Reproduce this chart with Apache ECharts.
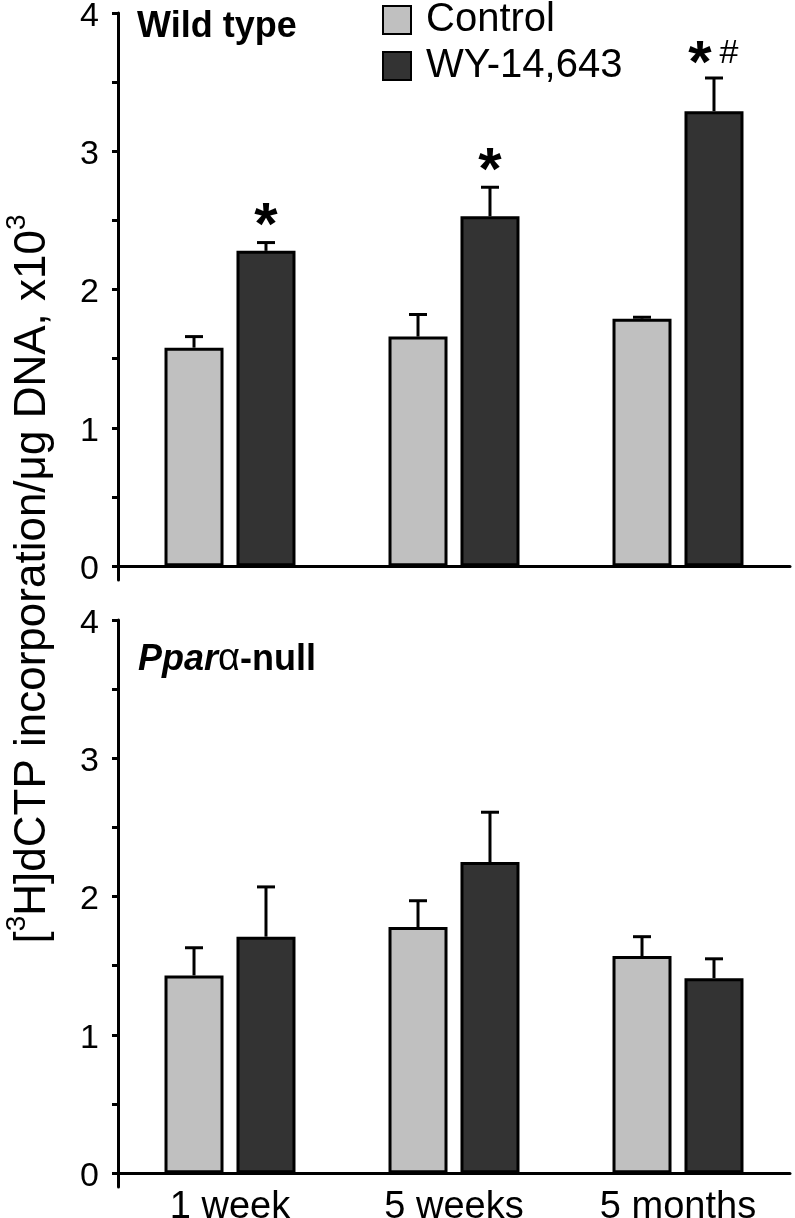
<!DOCTYPE html>
<html>
<head>
<meta charset="utf-8">
<script src="https://cdn.jsdelivr.net/npm/echarts@6/dist/echarts.min.js"></script>
<style>
html,body{margin:0;padding:0;background:#fff;}
#chart{width:795px;height:1218px;}
</style>
</head>
<body>
<div id="chart"></div>
<script>
// ---- data ----
const categories = ['1 week', '5 weeks', '5 months'];
const seriesNames = ['Control', 'WY-14,643'];
const wtControl = [1.58, 1.66, 1.79];
const wtControlSE = [0.08, 0.16, 0.01];
const wtWY = [2.28, 2.53, 3.29];
const wtWYSE = [0.06, 0.21, 0.24];
const nullControl = [1.43, 1.78, 1.57];
const nullControlSE = [0.20, 0.19, 0.14];
const nullWY = [1.71, 2.25, 1.41];
const nullWYSE = [0.36, 0.36, 0.14];
const wtMarks = ['*', '*', '*#'];
const yTickValues = [0, 0.5, 1, 1.5, 2, 2.5, 3, 3.5, 4];
const yLabelValues = [0, 1, 2, 3, 4];
const panelLabels = ['Wild type', 'Ppar', 'α', '-null'];
const yTitle = ['[', '3', 'H]dCTP incorporation/μg DNA, x10', '3'];

// ---- style ----
const FONT = '"Liberation Sans", Arial, Helvetica, sans-serif';
const BAR_W = 59;
const BAR_GAP = '22%';
const HALF_OFF = (BAR_W + 0.22 * BAR_W) / 2;
const CTRL_COLOR = '#c0c0c0';
const WY_COLOR = '#333333';

const chart = echarts.init(document.getElementById('chart'), null, {renderer: 'canvas'});

function errSeries(gi, vals, se, side) {
  return {
    type: 'custom',
    xAxisIndex: gi, yAxisIndex: gi,
    z: 5,
    data: vals.map((v, i) => [i, v, se[i]]),
    encode: {x: 0, y: 1},
    renderItem: function (params, api) {
      const b = api.coord([api.value(0), api.value(1)]);
      const t = api.coord([api.value(0), api.value(1) + api.value(2)]);
      const x = b[0] + side * HALF_OFF;
      return {
        type: 'group',
        children: [
          {type: 'line', shape: {x1: x, y1: b[1], x2: x, y2: t[1]}, style: {stroke: '#000', lineWidth: 3}},
          {type: 'line', shape: {x1: x - 9, y1: t[1], x2: x + 9, y2: t[1]}, style: {stroke: '#000', lineWidth: 3}}
        ]
      };
    }
  };
}

function markSeries(gi, vals, se, marks, side) {
  return {
    type: 'custom',
    xAxisIndex: gi, yAxisIndex: gi,
    z: 6,
    data: vals.map((v, i) => [i, v + se[i]]),
    encode: {x: 0, y: 1},
    renderItem: function (params, api) {
      const t = api.coord([api.value(0), api.value(1)]);
      const x = t[0] + side * HALF_OFF;
      const m = marks[params.dataIndex];
      const children = [];
      if (m === '*') {
        children.push({type: 'text', x: x, y: t[1] - 15,
          style: {text: '*', font: 'bold 60px ' + FONT, fill: '#000', textAlign: 'center', textVerticalAlign: 'middle'}});
      } else if (m === '*#') {
        children.push({type: 'text', x: x - 14, y: t[1] - 13,
          style: {text: '*', font: 'bold 60px ' + FONT, fill: '#000', textAlign: 'center', textVerticalAlign: 'middle'}});
        children.push({type: 'text', x: x + 15, y: t[1] - 24,
          style: {text: '#', font: '34px ' + FONT, fill: '#000', textAlign: 'center', textVerticalAlign: 'middle'}});
      }
      return {type: 'group', children: children};
    }
  };
}

function barSeries(gi, name, vals, color) {
  return {
    type: 'bar', name: name,
    xAxisIndex: gi, yAxisIndex: gi,
    data: vals,
    barWidth: BAR_W,
    barGap: BAR_GAP,
    itemStyle: {color: color, borderColor: '#000', borderWidth: 3},
    emphasis: {disabled: true},
    z: 2
  };
}

function yAxis(gi) {
  return {
    type: 'value', gridIndex: gi,
    min: -0.1, max: 4,
    splitLine: {show: false},
    axisLine: {show: true, lineStyle: {color: '#000', width: 3}},
    axisTick: {show: true, length: 6, inside: false, customValues: yTickValues, lineStyle: {color: '#000', width: 3}},
    axisLabel: {show: true, customValues: yLabelValues, margin: 19, color: '#000',
      formatter: v => '{n|' + v + '}',
      rich: {n: {fontSize: 34, fontFamily: FONT, color: '#000', padding: [7, 0, 0, 0]}}}
  };
}

function xAxis(gi, showLabels) {
  return {
    type: 'category', gridIndex: gi, data: categories,
    axisLine: {show: true, onZero: true, lineStyle: {color: '#000', width: 3}},
    axisTick: {show: false},
    axisLabel: {show: showLabels, fontSize: 38, fontFamily: FONT, color: '#000', margin: 2}
  };
}

const option = {
  animation: false,
  backgroundColor: '#fff',
  textStyle: {fontFamily: FONT},
  grid: [
    {left: 118, right: 5, top: 13, height: 567, outerBoundsMode: 'none', containLabel: false},
    {left: 118, right: 5, top: 620, height: 567, outerBoundsMode: 'none', containLabel: false}
  ],
  xAxis: [xAxis(0, false), xAxis(1, true)],
  yAxis: [yAxis(0), yAxis(1)],
  legend: {
    data: seriesNames,
    orient: 'vertical',
    left: 377, top: -5,
    itemWidth: 28, itemHeight: 28,
    itemGap: 6,
    icon: 'rect',
    selectedMode: false,
    textStyle: {fontSize: 40, fontFamily: FONT, color: '#000', padding: [0, 0, 0, 10]}
  },
  graphic: [
    {type: 'text', x: 137, y: 9, style: {text: panelLabels[0], font: 'bold 36px ' + FONT, fill: '#000', textVerticalAlign: 'top'}},
    {type: 'text', x: 138, y: 641, style: {
      text: '{i|' + panelLabels[1] + '}{g|' + panelLabels[2] + '}{b|' + panelLabels[3] + '}',
      textVerticalAlign: 'top',
      rich: {
        i: {font: 'italic bold 36px ' + FONT, fill: '#000'},
        g: {font: '38px ' + FONT, fill: '#000'},
        b: {font: 'bold 36px ' + FONT, fill: '#000'}
      }
    }},
    {type: 'text', x: 33, y: 579, rotation: Math.PI / 2, style: {
      text: yTitle[0] + '{s|' + yTitle[1] + '}' + yTitle[2] + '{s|' + yTitle[3] + '}',
      font: '44px ' + FONT, fill: '#000', textAlign: 'center', textVerticalAlign: 'middle',
      lineHeight: 60,
      rich: {
        s: {fontSize: 28, fontFamily: FONT, lineHeight: 28, verticalAlign: 'top', fill: '#000'}
      }
    }}
  ],
  series: [
    barSeries(0, seriesNames[0], wtControl, CTRL_COLOR),
    barSeries(0, seriesNames[1], wtWY, WY_COLOR),
    errSeries(0, wtControl, wtControlSE, -1),
    errSeries(0, wtWY, wtWYSE, 1),
    markSeries(0, wtWY, wtWYSE, wtMarks, 1),
    barSeries(1, seriesNames[0], nullControl, CTRL_COLOR),
    barSeries(1, seriesNames[1], nullWY, WY_COLOR),
    errSeries(1, nullControl, nullControlSE, -1),
    errSeries(1, nullWY, nullWYSE, 1)
  ]
};
chart.setOption(option);
</script>
</body>
</html>
